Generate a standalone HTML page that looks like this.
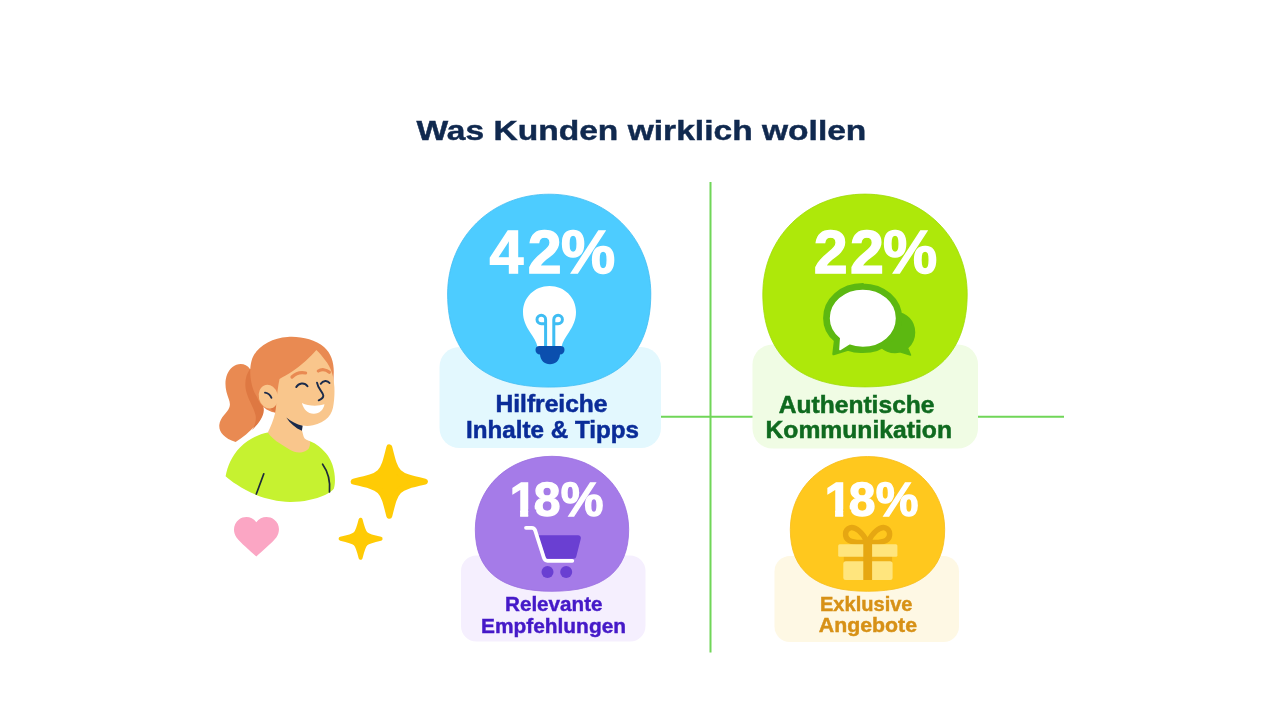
<!DOCTYPE html>
<html lang="de">
<head>
<meta charset="utf-8">
<title>Was Kunden wirklich wollen</title>
<style>
html,body{margin:0;padding:0;background:#fff;}
body{width:1280px;height:711px;overflow:hidden;font-family:"Liberation Sans",sans-serif;}
svg{display:block;}
text{font-family:"Liberation Sans",sans-serif;font-weight:bold;}
</style>
</head>
<body>
<svg width="1280" height="711" viewBox="0 0 1280 711">
<rect width="1280" height="711" fill="#ffffff"/>

<!-- title -->
<text x="416.4" y="139.7" font-size="28.3" fill="#10294f" stroke="#10294f" stroke-width="0.45" textLength="450" lengthAdjust="spacingAndGlyphs">Was Kunden wirklich wollen</text>

<!-- axis lines -->
<g stroke="#70d658" stroke-width="2" fill="none">
<line x1="710.5" y1="182" x2="710.5" y2="652.5"/>
<line x1="661" y1="416.7" x2="753" y2="416.7"/>
<line x1="978" y1="416.7" x2="1064" y2="416.7"/>
</g>

<!-- label boxes -->
<rect x="439.5" y="347" width="221.5" height="101" rx="20" fill="#e3f8fe"/>
<rect x="752.5" y="344.5" width="225.5" height="104" rx="20" fill="#f0fce4"/>
<rect x="461" y="555.5" width="184.5" height="86" rx="15.5" fill="#f5effe"/>
<rect x="774.5" y="556" width="184.5" height="86" rx="15.5" fill="#fef8e4"/>

<!-- circles -->
<path d="M447.6 294 C447.6 237.3 491.5 194.2 549.2 194.2 C606.9 194.2 650.8 237.3 650.8 294 C650.8 355 615.7 387.1 549.2 387.1 C482.7 387.1 447.6 355 447.6 294 Z" fill="#4dccff" stroke="#41bdf2" stroke-width="0.8"/>
<path d="M762.8 294 C762.8 237.3 807 194.1 865 194.1 C923 194.1 967.2 237.3 967.2 294 C967.2 354.8 931.9 386.9 865 386.9 C798.1 386.9 762.8 354.8 762.8 294 Z" fill="#aee80a" stroke="#a0dc08" stroke-width="0.8"/>
<path d="M475.3 529.5 C475.3 487.9 508.4 456.3 552 456.3 C595.6 456.3 628.7 487.9 628.7 529.5 C628.7 570.9 603.4 591.3 552 591.3 C500.6 591.3 475.3 570.9 475.3 529.5 Z" fill="#a57be8" stroke="#9a6fe0" stroke-width="0.8"/>
<path d="M790.3 529.5 C790.3 488 823.7 456.5 867.5 456.5 C911.3 456.5 944.7 488 944.7 529.5 C944.7 570.9 919.2 591.3 867.5 591.3 C815.8 591.3 790.3 570.9 790.3 529.5 Z" fill="#ffc81e" stroke="#f7bd18" stroke-width="0.8"/>

<!-- percentages -->
<defs>
<clipPath id="c1a"><rect x="503.7" y="455.6" width="120" height="53.8"/><rect x="520.1" y="508.4" width="8.1" height="10"/><rect x="536.3" y="508.4" width="87.4" height="12"/></clipPath>
<clipPath id="c1b"><rect x="818.7" y="455.6" width="120" height="53.8"/><rect x="835.1" y="508.4" width="8.1" height="10"/><rect x="851.3" y="508.4" width="87.4" height="12"/></clipPath>
</defs>
<g fill="#ffffff" stroke="#ffffff" stroke-width="1.3" font-size="61">
<text x="489.6 527.8 560.9" y="273.2">42%</text>
<text x="813.8 850.0 883.1" y="273.2">22%</text>
</g>
<g fill="#ffffff" stroke="#ffffff" stroke-width="1.3" font-size="48">
<text x="509.7 533.7 560.7" y="515.6" clip-path="url(#c1a)">18%</text>
<text x="824.7 848.7 875.7" y="515.6" clip-path="url(#c1b)">18%</text>
</g>

<!-- labels -->
<g font-size="24" fill="#0a2c98" stroke="#0a2c98" stroke-width="0.5">
<text x="495.5" y="412" textLength="112" lengthAdjust="spacingAndGlyphs">Hilfreiche</text>
<text x="466" y="437.5" textLength="173" lengthAdjust="spacingAndGlyphs">Inhalte &amp; Tipps</text>
</g>
<g font-size="24" fill="#0f6a1f" stroke="#0f6a1f" stroke-width="0.5">
<text x="778.75" y="412.5" textLength="155.75" lengthAdjust="spacingAndGlyphs">Authentische</text>
<text x="765.5" y="437.5" textLength="186.5" lengthAdjust="spacingAndGlyphs">Kommunikation</text>
</g>
<g font-size="20.8" fill="#4519c8" stroke="#4519c8" stroke-width="0.45">
<text x="505" y="611" textLength="97.5" lengthAdjust="spacingAndGlyphs">Relevante</text>
<text x="481" y="632.5" textLength="145" lengthAdjust="spacingAndGlyphs">Empfehlungen</text>
</g>
<g font-size="20.8" fill="#d79116" stroke="#d79116" stroke-width="0.45">
<text x="820" y="610.75" textLength="92.5" lengthAdjust="spacingAndGlyphs">Exklusive</text>
<text x="818.75" y="632" textLength="98.25" lengthAdjust="spacingAndGlyphs">Angebote</text>
</g>

<!-- ICONS -->
<!-- bulb -->
<g>
<path d="M549.5 286 C564.5 286 576 297.5 576 312 C576 320 573 326 568.8 332.5 C565.3 337.8 562.5 341.5 561.5 347 L537.5 347 C536.5 341.5 533.7 337.8 530.2 332.5 C526 326 523 320 523 312 C523 297.5 534.5 286 549.5 286 Z" fill="#ffffff"/>
<g fill="none" stroke="#3fbdf3" stroke-width="3" stroke-linecap="round">
<path d="M545.6 346 V319.5 A4.3 4.3 0 1 0 541.3 323.8 H545"/>
<path d="M553.8 346 V319.5 A4.3 4.3 0 1 1 558.1 323.8 H554.4"/>
</g>
<path d="M539.5 346 H560.5 A4 4 0 0 1 564.5 350 A4.5 4.5 0 0 1 560 354.5 C559.5 360.5 555.5 364.3 550 364.3 C544.5 364.3 540.5 360.5 540 354.5 A4.5 4.5 0 0 1 535.5 350 A4 4 0 0 1 539.5 346 Z" fill="#0b4fae"/>
</g>
<!-- speech bubbles -->
<g>
<path d="M895 312.5 C906.5 312.5 914.5 321.5 914.5 332.5 C914.5 339 911.5 344.5 907.5 348 L910.5 355 L900 351.8 C898.3 352.3 896.7 352.5 895 352.5 C884 352.5 875 343.5 875 332.5 C875 321.5 884 312.5 895 312.5 Z" fill="#5cb811" stroke="#5cb811" stroke-width="1.5" stroke-linejoin="round"/>
<path d="M862.8 284.7 C884.3 284.7 900.9 299.7 900.9 318.2 C900.9 336.8 884.3 351.7 862.8 351.7 C857.5 352 852.5 351.2 848 349.6 L833.6 354 L835.2 340.5 C828.5 335 824.4 327 824.4 318.2 C824.4 299.5 841 284.4 862.8 284.4 Z" fill="#5cb811" stroke="#5cb811" stroke-width="2.6" stroke-linejoin="round"/>
<path d="M862.8 290.5 C881 290.5 895 303 895 318.2 C895 333.5 881 346 862.8 346 C858 346 853.5 345.2 849.5 343.6 L840 349.5 L840.8 337.8 C834.5 332.8 830.6 326 830.6 318.2 C830.6 303 844.5 290.5 862.8 290.5 Z" fill="#ffffff" stroke="#ffffff" stroke-width="1.6" stroke-linejoin="round"/>
</g>
<!-- cart -->
<g>
<path d="M538 535.3 H578 A2.8 2.8 0 0 1 580.8 538.8 L576.3 556.5 A2.8 2.8 0 0 1 573.6 558.8 H546 Z" fill="#6a3fd2"/>
<path d="M526 527.8 H531.8 C533.8 527.8 534.6 528.8 535.2 530.5 L543.8 557.5 C544.5 559.8 545.5 560.8 547.5 560.8 H572.3" fill="none" stroke="#ffffff" stroke-width="3.8" stroke-linecap="round" stroke-linejoin="round"/>
<circle cx="547.5" cy="572" r="6" fill="#6a3fd2"/>
<circle cx="566.2" cy="572" r="6" fill="#6a3fd2"/>
</g>
<!-- gift -->
<g>
<g fill="none" stroke="#e6a712" stroke-width="5.4" stroke-linejoin="round" stroke-linecap="round">
<path d="M867.3 542 C862.5 532.5 855.5 526.3 850 527.8 C844.5 529.5 844 537.5 849 540.3 C854 543 862 542.6 867.3 542 Z"/>
<path d="M867.9 542 C872.7 532.5 879.7 526.3 885.2 527.8 C890.7 529.5 891.2 537.5 886.2 540.3 C881.2 543 873.2 542.6 867.9 542 Z"/>
</g>
<rect x="843.8" y="556" width="48.3" height="6.5" fill="#efb116"/>
<rect x="838.2" y="544.3" width="59.2" height="12.5" rx="1.5" fill="#ffe57d"/>
<rect x="843.3" y="561.2" width="49.3" height="18.8" rx="2.5" fill="#ffe57d"/>
<rect x="863.3" y="538" width="8.8" height="42" fill="#e6a712"/>
</g>
<!-- CHARACTER -->
<g>
<!-- ponytail -->
<path d="M250 369 C246 363 238 362.5 232.5 367 C226 372.5 224 382 226.5 392 C228 398.5 231 402 229.5 407 C227.5 413 220 417 219.3 425 C218.8 432 224 438 235.6 442 C243 437.5 251 430.5 257.5 423 C263 416.5 264.5 410 262 403 L258 385 Z" fill="#e98a52"/>
<path d="M250 369 C245 376 244 385 247 394 C249.5 402 254 408 255.5 415 C256.5 420 255 425 252 430 C258 424.5 263.5 417 263.8 410.5 C264 405 261 400 258.5 394 C255.5 386 254 377 256 368 Z" fill="#de7842"/>
<!-- hair back -->
<path d="M287.5 337 C300 336 315 339.5 324 347 C331 353 333.8 362 333.8 372 L333 392 L280 410 C279 413 277 414 275 412.5 C267 411.5 260 405.5 257 397 C251 388 248.5 372 251.5 361 C255 347.5 271 338 287.5 337 Z" fill="#e98a52"/>
<path d="M262 398 C265 404 270 409 275.5 413 L277 400 Z" fill="#de7842"/>
<!-- shirt -->
<path d="M267.5 432.5 C259 434 248 439.5 240 447.5 C232 455.5 227.5 466 225.6 476.3 C230 480.5 242 489 256.3 495 C266 499 278 501.6 290 501.9 C303 502 315 499.5 325 495 C329 493 332.5 490.5 333.8 488.8 C335.5 484 335.5 474 332.5 465 C330.5 459 327 453 318.8 446.3 C316 444 313 442.3 310 441.3 Z" fill="#c6f230"/>
<!-- neck + face -->
<path d="M316.3 350 C311 356.5 301 365.5 292.5 371.3 C288 374.3 283 377 279.5 379 C278 386 277 394 276.5 402 C276 408 275.5 411 275 413.5 C273.5 420 270.5 427 267.8 432.5 C271 437 275 440.5 280 443.5 C286 447.5 293 452.5 299 452.5 C303.5 452.5 307.5 450.5 309 448 C310 446 310.2 443.5 310 441.3 C307 440.5 304.5 439 303.8 437 C303 434.5 302.5 432 302 430.5 L302.5 425.6 C306 426.3 309.5 426.2 313 425.3 C319 423.8 324.5 421 328 417.5 C331.5 413.5 333 409 333.6 404 C334.5 398 334.6 392 334.4 387.5 C334 381.5 333.3 377 332 373 C330.5 368 328 363.5 325 360 C322.5 356.5 319.5 353 316.3 350 Z" fill="#f9c68c"/>
<!-- chin shadow -->
<path d="M286.3 417.5 C291 421.5 296.5 424.3 302.6 425.8 L301.9 430.8 C295.5 428 290 423.5 286.3 417.5 Z" fill="#1b2b4b"/>
<!-- ear -->
<ellipse cx="268.3" cy="396.8" rx="9.6" ry="12" transform="rotate(-14 268 396.3)" fill="#f9c68c"/>
<path d="M265 392.6 C268 393.2 270.5 395.2 271.4 397.8" fill="none" stroke="#1b2b4b" stroke-width="1.9" stroke-linecap="round"/>
<!-- brows -->
<path d="M292 377 C295.5 373.5 300.5 372 305.6 373" fill="none" stroke="#e98a52" stroke-width="3.2" stroke-linecap="round"/>
<path d="M318.3 371 C321.5 369 326 369.3 329.4 372.3" fill="none" stroke="#e98a52" stroke-width="3.2" stroke-linecap="round"/>
<!-- eyes -->
<path d="M296.3 387 C298.5 383 304.5 382 307.5 386.3" fill="none" stroke="#1b2b4b" stroke-width="2" stroke-linecap="round"/>
<path d="M320.8 383.8 C323 380.3 327.5 380 329.5 383" fill="none" stroke="#1b2b4b" stroke-width="2" stroke-linecap="round"/>
<!-- nose -->
<path d="M317 382.6 C318 389 323 392 323.3 395.5 C323.5 398 321 399.3 318.7 400.3" fill="none" stroke="#1b2b4b" stroke-width="1.9" stroke-linecap="round"/>
<!-- mouth -->
<path d="M301.9 403 C308 406.2 318 406.5 324.5 404.3 C323.5 410 319.5 413.6 314 413.8 C308 414 303.5 409.5 301.9 403 Z" fill="#ffffff"/>
<!-- shirt lines -->
<path d="M263.8 473.8 L256.3 494" fill="none" stroke="#1d2a3a" stroke-width="1.7" stroke-linecap="round"/>
<path d="M322.6 464.2 C327.5 471 330.5 481 329.5 492" fill="none" stroke="#1d2a3a" stroke-width="1.7" stroke-linecap="round"/>
</g>
<!-- heart -->
<path d="M256.3 522.3 C252.5 516.5 244.5 515.5 239 519.5 C233.5 523.5 232.3 531.5 236.5 537.5 C241 543.5 250 550.5 256.3 556.6 C262.5 550.5 271.5 543.5 276.3 537.5 C280.5 531.5 279.7 523.5 274 519.5 C268.5 515.5 260.3 516.5 256.3 522.3 Z" fill="#fba6c4"/>
<!-- sparkles -->
<path d="M389.3 447.4 C396.1 475.1 396.1 475.1 424.9 481.6 C396.1 488.1 396.1 488.1 389.3 515.8 C382.5 488.1 382.5 488.1 353.7 481.6 C382.5 475.1 382.5 475.1 389.3 447.4 Z" fill="#ffcb05" stroke="#ffcb05" stroke-width="6" stroke-linejoin="round"/>
<path d="M360.6 519.8 C364.4 535.2 364.4 535.2 380.6 538.8 C364.4 542.4 364.4 542.4 360.6 557.8 C356.8 542.4 356.8 542.4 340.6 538.8 C356.8 535.2 356.8 535.2 360.6 519.8 Z" fill="#ffcb05" stroke="#ffcb05" stroke-width="4" stroke-linejoin="round"/>
</svg>
</body>
</html>
